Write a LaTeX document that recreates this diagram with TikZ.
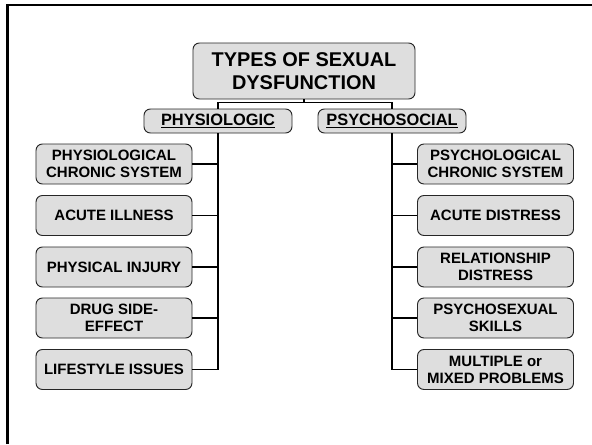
\documentclass[tikz,border=0pt]{standalone}
\usepackage{fontspec}
\setmainfont{Liberation Sans}

\begin{document}
\begin{tikzpicture}[x = 0.03cm, y = -0.03cm,
		box/.style = {rectangle, rounded corners = 5.5pt, draw = black!85, line width = 0.8pt, fill = black!13, align = center, inner sep = 0pt},
		leaf/.style = {box, minimum width = 4.68cm, minimum height = 1.2cm, font = \fontsize{12.8}{14.5}\selectfont\bfseries},
		head/.style = {box, minimum width = 4.44cm, minimum height = 0.72cm, font = \fontsize{14}{16}\selectfont\bfseries},
		link/.style = {line width = 1.2pt, black}]
		\useasboundingbox (0, 0) rectangle (592, 444);
		\draw[line width = 1.8pt] (7.5, 444) -- (7.5, 5) -- (592, 5);
		\node[box, minimum width = 6.66cm, minimum height = 1.68cm, font = \fontsize{17}{19.6}\selectfont\bfseries] (title) at (304, 71) {TYPES OF SEXUAL\\DYSFUNCTION};
		\node[head] (physio) at (218, 121) {\underline{PHYSIOLOGIC}};
		\node[head] (psycho) at (392, 121) {\underline{PSYCHOSOCIAL}};
		\draw[link] (physio.north) -- ++(0, -6) -| (title.south);
		\draw[link] (psycho.north) -- ++(0, -6) -| (title.south);
		% left column
		\node[leaf] (l1) at (114, 164) {PHYSIOLOGICAL\\CHRONIC SYSTEM};
		\node[leaf] (l2) at (114, 215.5) {ACUTE ILLNESS};
		\node[leaf] (l3) at (114, 267) {PHYSICAL INJURY};
		\node[leaf] (l4) at (114, 318) {DRUG SIDE-\\EFFECT};
		\node[leaf] (l5) at (114, 369.5) {LIFESTYLE ISSUES};
		\draw[link] (physio.south) |- (l5.east);
		\foreach \n in {l1, l2, l3, l4}
			\draw[link] (\n.east) -- (\n.east -| physio.south);
		% right column
		\node[leaf] (r1) at (495.5, 164) {PSYCHOLOGICAL\\CHRONIC SYSTEM};
		\node[leaf] (r2) at (495.5, 215.5) {ACUTE DISTRESS};
		\node[leaf] (r3) at (495.5, 267) {RELATIONSHIP\\DISTRESS};
		\node[leaf] (r4) at (495.5, 318) {PSYCHOSEXUAL\\SKILLS};
		\node[leaf] (r5) at (495.5, 369.5) {MULTIPLE or\\MIXED PROBLEMS};
		\draw[link] (psycho.south) |- (r5.west);
		\foreach \n in {r1, r2, r3, r4}
			\draw[link] (\n.west) -- (\n.west -| psycho.south);
	\end{tikzpicture}
\end{document}
